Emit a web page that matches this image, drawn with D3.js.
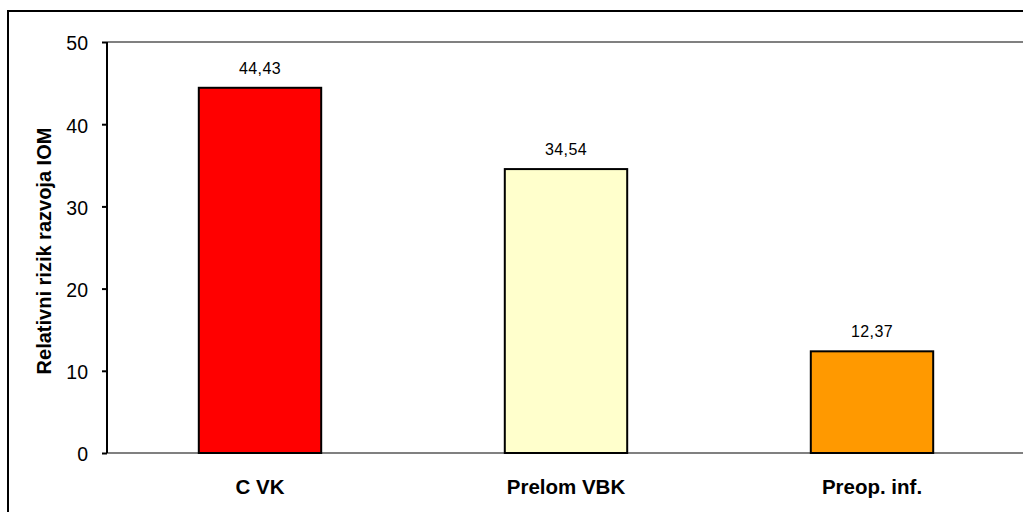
<!DOCTYPE html>
<html><head><meta charset="utf-8">
<script src="https://cdn.jsdelivr.net/npm/d3@7"></script>
<style>body{margin:0;background:#fff;}svg{display:block;font-family:"Liberation Sans",Arial,sans-serif;}</style>
</head><body><svg id="c" width="1023" height="512"></svg>
<script>
const categories = ["C VK", "Prelom VBK", "Preop. inf."];
const values = [44.43, 34.54, 12.37];
const valueLabels = ["44,43", "34,54", "12,37"];
const barColors = ["#FF0000", "#FFFFCC", "#FF9900"];
const yTicks = [0, 10, 20, 30, 40, 50];
const yTitle = "Relativni rizik razvoja IOM";

(function () {
const svg = d3.select("#c");
const pLeft = 107, step = 306, pTop = 42, pBottom = 453;

// outer frame
svg.append("rect").attr("x", 8).attr("y", 11).attr("width", 1030).attr("height", 520)
  .attr("fill", "none").attr("stroke", "#000").attr("stroke-width", 2);

const x = d3.scaleBand().domain(categories).range([pLeft, pLeft + 3 * step]).paddingInner(0.6).paddingOuter(0.3);
const y = d3.scaleLinear().domain([0, 50]).range([pBottom, pTop]);

// top gridline
svg.append("line").attr("x1", pLeft).attr("x2", 1023).attr("y1", y(50)).attr("y2", y(50))
  .attr("stroke", "#808080").attr("stroke-width", 2);
// bottom axis line
svg.append("line").attr("x1", pLeft).attr("x2", 1023).attr("y1", y(0)).attr("y2", y(0))
  .attr("stroke", "#808080").attr("stroke-width", 2);

// y axis
const yAxis = d3.axisLeft(y).tickValues(yTicks).tickSize(5).tickPadding(14).tickFormat(d3.format("d"));
const ga = svg.append("g").attr("transform", `translate(${pLeft},0)`).call(yAxis);
ga.select(".domain").attr("stroke", "#000").attr("stroke-width", 2).attr("d", `M0,${pTop}V${pBottom}`);
ga.selectAll(".tick line").attr("stroke", "#000").attr("stroke-width", 2);
ga.selectAll(".tick text").attr("font-size", 19.5).attr("fill", "#000").attr("dy", "0.4em")
  .attr("font-family", "Liberation Sans, Arial, sans-serif");

// bars
svg.selectAll("rect.bar").data(categories).enter().append("rect").attr("class", "bar")
  .attr("x", d => x(d)).attr("width", x.bandwidth())
  .attr("y", (d, i) => y(values[i])).attr("height", (d, i) => y(0) - y(values[i]))
  .attr("fill", (d, i) => barColors[i]).attr("stroke", "#000").attr("stroke-width", 2);

// value labels
svg.selectAll("text.val").data(categories).enter().append("text").attr("class", "val")
  .attr("x", d => x(d) + x.bandwidth() / 2).attr("y", (d, i) => y(values[i]) - 14)
  .attr("text-anchor", "middle").attr("font-size", 16).attr("font-weight", "normal")
  .attr("letter-spacing", 0.4)
  .text((d, i) => valueLabels[i]);

// category labels
svg.selectAll("text.cat").data(categories).enter().append("text").attr("class", "cat")
  .attr("x", d => x(d) + x.bandwidth() / 2).attr("y", 494)
  .attr("text-anchor", "middle").attr("font-size", 20.5).attr("font-weight", "bold")
  .text(d => d);

// y title
svg.append("text").attr("transform", `translate(51,251) rotate(-90)`)
  .attr("text-anchor", "middle").attr("font-size", 20).attr("font-weight", "bold")
  .text(yTitle);
})();
</script></body></html>
